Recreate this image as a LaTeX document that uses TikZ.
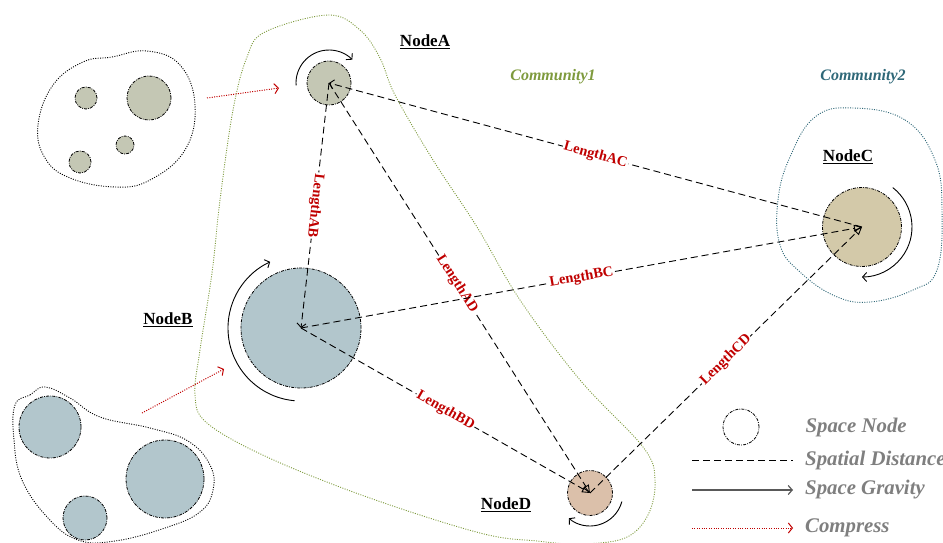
\documentclass[tikz,border=0pt]{standalone}
\usepackage{fontspec}
\setmainfont{Liberation Serif}
\usetikzlibrary{positioning,arrows.meta}

\definecolor{fillA}{HTML}{C4C7B4}
\definecolor{fillB}{HTML}{B2C6CC}
\definecolor{fillC}{HTML}{D3C9A9}
\definecolor{fillD}{HTML}{DBC0AA}
\definecolor{lenred}{HTML}{C00000}
\definecolor{comgreen}{HTML}{7E9A3D}
\definecolor{comteal}{HTML}{2F6878}
\definecolor{leggray}{HTML}{7F7F7F}
\definecolor{gravgray}{HTML}{595959}

\begin{document}
\begin{tikzpicture}[x=1pt, y=-1pt,
		sn/.style={circle, draw, line width=0.8pt, dash pattern=on 3pt off 1.2pt on 0.8pt off 1.2pt, inner sep=0pt},
		nl/.style={font=\fontsize{17}{20}\selectfont\bfseries},
		dist/.style={dash pattern=on 7pt off 4pt, line width=0.9pt},
		len/.style={font=\fontsize{14.5}{17}\selectfont\bfseries, text=lenred, fill=white, inner sep=1pt, sloped},
		barb/.style={-{Straight Barb[length=4pt,width=9pt]}},
		tri/.style={-{Triangle[open,length=8pt,width=7pt]}},
		gr/.style={-{Straight Barb[length=4pt,width=9pt]}, line width=0.9pt},
		cmp/.style={-{Straight Barb[length=4pt,width=10pt]}, draw=lenred, dash pattern=on 1pt off 1.4pt, line width=1pt},
		blob/.style={dash pattern=on 1pt off 1.4pt, line width=0.9pt},
		com/.style={font=\fontsize{16}{19}\selectfont\bfseries\itshape},
		legtext/.style={font=\fontsize{20.8}{24}\selectfont\bfseries\itshape, text=leggray, inner sep=1pt}]

		\clip (0,0) rectangle (943,543);

		\draw[comgreen, blob] plot[smooth cycle, tension=0.6] coordinates {(328,15) (360,30) (380,58) (395,95) (433,160) (477,227) (520,300) (580,380) (643,447) (655,480) (648,515) (625,538) (580,544) (537,541) (480,533) (367,497) (267,457) (207,423) (195,395) (200,350) (212,273) (220,200) (233,110) (247,57) (265,32)};
		\draw[comteal, blob] plot[smooth cycle, tension=0.7] coordinates {(853,108) (905,120) (935,160) (942,210) (937,270) (913,290) (870,302) (835,296) (800,272) (780,245) (778,200) (790,157) (815,117)};
		\node[com, text=comgreen] (C1_label) at (553,77) {Community1};
		\node[com, text=comteal] (C2_label) at (863,77) {Community2};

		\draw[blob] plot[smooth cycle, tension=0.7] coordinates {(83,62) (112,57) (147,51) (180,65) (195,105) (185,150) (150,180) (115,187) (70,178) (45,158) (38,125) (53,85)};
		\draw[sn, fill=fillA] (86,98) circle[radius=11pt];
		\draw[sn, fill=fillA] (149,98) circle[radius=22pt];
		\draw[sn, fill=fillA] (125,145) circle[radius=9pt];
		\draw[sn, fill=fillA] (80,162) circle[radius=11pt];

		\draw[blob] plot[smooth cycle, tension=0.7] coordinates {(15,405) (30,395) (45,387) (70,398) (100,417) (150,428) (188,441) (210,465) (213,490) (200,512) (165,528) (115,541) (78,540) (48,518) (22,480) (14,440)};
		\draw[sn, fill=fillB] (50,427) circle[radius=31pt];
		\draw[sn, fill=fillB] (165,479) circle[radius=39pt];
		\draw[sn, fill=fillB] (85,518) circle[radius=22pt];

		\node[sn, fill=fillA, minimum size=44pt] (A) at (329,83) {};
		\node[nl] (A_label) at (425,42) {\underline{NodeA}};
		\node[sn, fill=fillB, minimum size=120pt] (B) at (301,328) {};
		\node[nl] (B_label) at (168,320) {\underline{NodeB}};
		\node[sn, fill=fillC, minimum size=79pt] (C) at (862,227) {};
		\node[nl] (C_label) at (848,157) {\underline{NodeC}};
		\node[sn, fill=fillD, minimum size=45pt] (D) at (590,493) {};
		\node[nl] (D_label) at (506,505) {\underline{NodeD}};

		\path[dist] (C.center) edge[barb] node[len] {LengthAC} (A.center);
		\path[dist] (A.center) edge[barb] node[len, allow upside down] {LengthAB} (B.center);
		\path[dist] (A.center) edge[tri] node[len, pos=0.49] {LengthAD} (D.center);
		\path[dist] (B.center) edge[tri] node[len] {LengthBC} (C.center);
		\path[dist] (B.center) edge[tri] node[len] {LengthBD} (D.center);
		\path[dist] (D.center) edge[tri] node[len] {LengthCD} (C.center);

		\draw[gr] ([shift={(184:33pt)}]A.center) arc[start angle=184, end angle=45, radius=33pt];
		\draw[gr] ([shift={(265:73pt)}]B.center) arc[start angle=265, end angle=115, radius=73pt];
		\draw[gr] ([shift={(52:50pt)}]C.center) arc[start angle=52, end angle=-90, radius=50pt];
		\draw[gr] ([shift={(-15:33pt)}]D.center) arc[start angle=-15, end angle=-130, radius=33pt];

		\coordinate (P1) at (207,98);
		\coordinate (Q1) at (279,88);
		\coordinate (P2) at (142,413);
		\coordinate (Q2) at (224,369);
		\draw[cmp] (P1) -- (Q1);
		\draw[cmp] (P2) -- (Q2);

		\node[sn, minimum size=36pt] (L1) at (741,427) {};
		\node[legtext, right=45pt of L1] (L1_label) {Space Node};
		\coordinate (L2a) at (692,460);
		\coordinate (L2b) at (793,460);
		\draw[dist] (L2a) -- (L2b);
		\node[legtext, right=11pt of L2b] (L2_label) {Spatial Distance};
		\coordinate (L3a) at (692,490);
		\coordinate (L3b) at (793,490);
		\draw[gr, gravgray, line width=1.2pt] (L3a) -- (L3b);
		\node[legtext, right=11pt of L3b] (L3_label) {Space Gravity};
		\coordinate (L4a) at (692,528);
		\coordinate (L4b) at (793,528);
		\draw[cmp] (L4a) -- (L4b);
		\node[legtext, right=11pt of L4b] (L4_label) {Compress};
	\end{tikzpicture}
\end{document}
